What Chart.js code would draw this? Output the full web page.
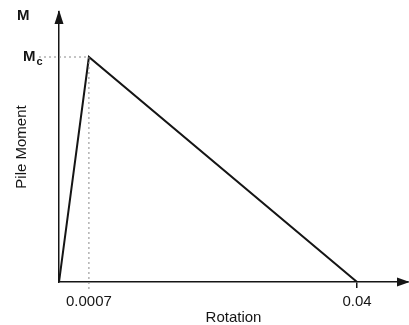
<!DOCTYPE html>
<html>
<head>
<meta charset="utf-8">
<script src="https://cdn.jsdelivr.net/npm/chart.js@4/dist/chart.umd.min.js"></script>
<style>
  html, body { margin: 0; padding: 0; background: #fff; }
  #wrap { width: 409px; height: 325px; }
</style>
</head>
<body>
<div id="wrap"><canvas id="chart" width="409" height="325"></canvas></div>
<script>
// rotation vs pile moment (moment normalised to Mc = 1)
const rotation = [0, 0.0007, 0.04];
const moment = [0, 1, 0];
const xTicks = [0.0007, 0.04];
const xTickLabels = ['0.0007', '0.04'];

const FONT = '"Liberation Sans", Arial, sans-serif';
const INK = '#151515';

// x axis in the sketch is not to scale: piecewise linear mapping
class BrokenScale extends Chart.LinearScale {
    static id = 'broken';
    static defaults = Chart.LinearScale.defaults;
    _frac(v) {
        const b = this.options.breaks;
        if (v <= b[0][0]) return b[0][1];
        for (let i = 1; i < b.length; i++) {
            if (v <= b[i][0]) {
                const t = (v - b[i - 1][0]) / (b[i][0] - b[i - 1][0]);
                return b[i - 1][1] + t * (b[i][1] - b[i - 1][1]);
            }
        }
        return b[b.length - 1][1];
    }
    getPixelForValue(v) {
        return this.left + this._frac(v) * this.width;
    }
    getValueForPixel(p) {
        const b = this.options.breaks;
        const f = (p - this.left) / this.width;
        for (let i = 1; i < b.length; i++) {
            if (f <= b[i][1]) {
                const t = (f - b[i - 1][1]) / (b[i][1] - b[i - 1][1]);
                return b[i - 1][0] + t * (b[i][0] - b[i - 1][0]);
            }
        }
        return b[b.length - 1][0];
    }
}
Chart.register(BrokenScale);

const sketch = {
    id: 'sketch',
    afterDraw(chart) {
        const ctx = chart.ctx;
        const x = chart.scales.x, y = chart.scales.y;
        const x0 = x.left, y0 = y.bottom;
        ctx.save();
        // arrow heads
        ctx.fillStyle = INK;
        ctx.beginPath();
        ctx.moveTo(x0, y.top - 2);
        ctx.lineTo(x0 - 4.5, y.top + 12);
        ctx.lineTo(x0 + 4.5, y.top + 12);
        ctx.closePath();
        ctx.fill();
        ctx.beginPath();
        ctx.moveTo(x.right + 2, y0);
        ctx.lineTo(x.right - 11, y0 - 4.5);
        ctx.lineTo(x.right - 11, y0 + 4.5);
        ctx.closePath();
        ctx.fill();
        // dotted guides to the peak
        const px = x.getPixelForValue(rotation[1]);
        const py = y.getPixelForValue(moment[1]);
        ctx.strokeStyle = '#8a8a8a';
        ctx.lineWidth = 1;
        ctx.setLineDash([2, 3]);
        ctx.beginPath();
        ctx.moveTo(x0 - 20, py);
        ctx.lineTo(px, py);
        ctx.moveTo(px, py);
        ctx.lineTo(px, y0 + 7);
        ctx.stroke();
        ctx.setLineDash([]);
        // M and Mc labels
        ctx.fillStyle = INK;
        ctx.textBaseline = 'middle';
        ctx.font = 'bold 15px ' + FONT;
        ctx.textAlign = 'left';
        ctx.fillText('M', 17, 16);
        ctx.fillText('M', 23, py);
        ctx.font = 'bold 11px ' + FONT;
        ctx.fillText('c', 36.5, py + 5);
        ctx.restore();
    }
};

new Chart(document.getElementById('chart'), {
    type: 'scatter',
    data: {
        datasets: [{
            data: rotation.map((r, i) => ({ x: r, y: moment[i] })),
            showLine: true,
            borderColor: INK,
            borderWidth: 2,
            pointRadius: 0,
            tension: 0
        }]
    },
    options: {
        responsive: false,
        animation: false,
        layout: { padding: { left: 12.5, top: 12, right: 1, bottom: 0 } },
        plugins: { legend: { display: false }, tooltip: { enabled: false } },
        scales: {
            x: {
                type: 'broken',
                min: 0,
                max: 0.0475,
                breaks: [[0, 0], [0.0007, 0.0857], [0.04, 0.854], [0.0475, 1]],
                afterBuildTicks: s => { s.ticks = xTicks.map(v => ({ value: v })); },
                border: { display: true, color: INK, width: 1.5 },
                grid: {
                    drawOnChartArea: false,
                    drawTicks: true,
                    tickLength: 6,
                    color: ctx => ctx.index === 1 ? INK : 'rgba(0,0,0,0)',
                    lineWidth: 1.5
                },
                ticks: {
                    color: INK,
                    font: { family: FONT, size: 15, lineHeight: 1 },
                    padding: 6,
                    maxRotation: 0,
                    autoSkip: false,
                    callback: (v, i) => xTickLabels[i]
                },
                title: {
                    display: true,
                    text: 'Rotation',
                    color: INK,
                    font: { family: FONT, size: 15, lineHeight: 1 },
                    padding: { top: -5, bottom: 0 }
                }
            },
            y: {
                min: 0,
                max: 1.2,
                border: { display: true, color: INK, width: 1.5 },
                grid: { display: false },
                ticks: { display: false },
                title: {
                    display: true,
                    text: 'Pile Moment',
                    color: INK,
                    font: { family: FONT, size: 15 },
                    padding: { top: 0, bottom: 20.5 }
                }
            }
        }
    },
    plugins: [sketch]
});
</script>
</body>
</html>
